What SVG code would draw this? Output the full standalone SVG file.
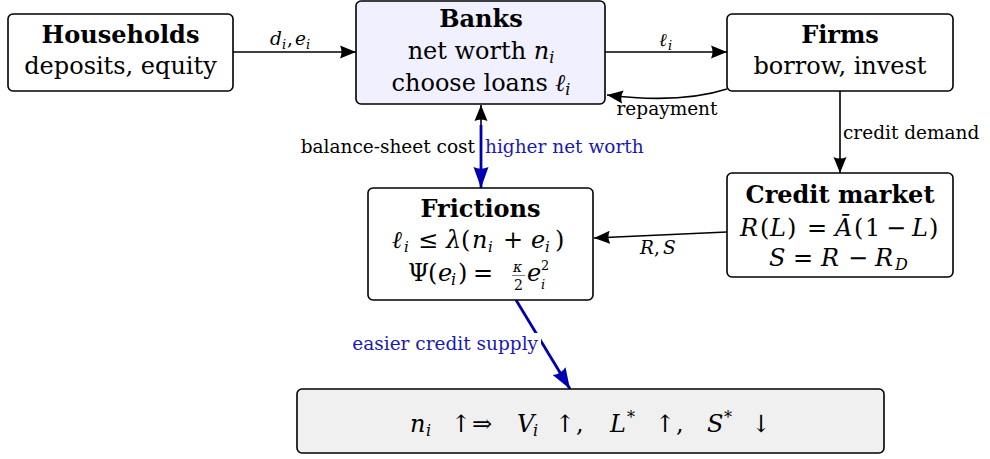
<svg xmlns="http://www.w3.org/2000/svg" width="990" height="459" viewBox="0 0 990 459">
<style>
.box{fill:#fff;stroke:#000;stroke-width:1.6}
.t{font-family:"DejaVu Serif","Liberation Serif",serif;font-size:24px;fill:#000}
.b{font-weight:bold}
.m{font-style:italic}
.s{font-size:16px}
.lbl{font-size:18.5px}
.ls{font-size:13px}
.blue{fill:#1a1ab3}
.c{stroke:#000;stroke-width:1.6;fill:none}
.cb{stroke:#0000b3;stroke-width:2.8;fill:none}
</style>
<defs>
<marker id="ah" markerUnits="userSpaceOnUse" markerWidth="18" markerHeight="14" refX="16" refY="7" orient="auto">
<path d="M0,0.5 L16,7 L0,13.5 Q3,7 0,0.5 Z" fill="#000"/>
</marker>
<marker id="ahb" markerUnits="userSpaceOnUse" markerWidth="22" markerHeight="16" refX="21" refY="8" orient="auto">
<path d="M0,0.5 L21,8 L0,15.5 Q3.5,8 0,0.5 Z" fill="#0000b3"/>
</marker>
</defs>

<g id="connectors">
<line class="c" x1="233" y1="52" x2="356" y2="52" marker-end="url(#ah)"/>
<line class="c" x1="605" y1="52" x2="727" y2="52" marker-end="url(#ah)"/>
<path class="c" d="M727,89 Q680,104 607,95" marker-end="url(#ah)"/>
<line class="c" x1="840" y1="91" x2="840" y2="173" marker-end="url(#ah)"/>
<line class="c" x1="727" y1="232" x2="594" y2="238" marker-end="url(#ah)"/>
<line class="c" x1="481" y1="188" x2="481" y2="105" marker-end="url(#ah)"/>
<line class="cb" x1="481" y1="125" x2="481" y2="188" marker-end="url(#ahb)"/>
<line class="cb" x1="516" y1="300" x2="570" y2="389" marker-end="url(#ahb)"/>
<rect x="345" y="333" width="196" height="23" fill="#fff"/>
<text class="t lbl m"><tspan x="270" y="45">d</tspan><tspan class="ls" x="282" y="49">i</tspan><tspan x="287" y="45" font-style="normal">,</tspan><tspan x="295" y="45">e</tspan><tspan class="ls" x="306" y="49">i</tspan></text>
<text class="t lbl m"><tspan x="659" y="46">ℓ</tspan><tspan class="ls" x="668" y="50">i</tspan></text>
<text class="t lbl" x="667" y="115" text-anchor="middle">repayment</text>
<text class="t lbl" x="843" y="139">credit demand</text>
<text class="t lbl" x="475" y="153" text-anchor="end">balance-sheet cost</text>
<text class="t lbl blue" x="485" y="153">higher net worth</text>
<text class="t lbl m"><tspan x="640" y="254">R</tspan><tspan x="654" y="254" font-style="normal">,</tspan><tspan x="663" y="254">S</tspan></text>
<text class="t lbl blue" x="538" y="350" text-anchor="end">easier credit supply</text>
</g>

<g id="households">
<rect class="box" x="8" y="14" width="225" height="77" rx="5"/>
<text class="t b" x="120.5" y="43" text-anchor="middle">Households</text>
<text class="t" x="120.5" y="74" text-anchor="middle">deposits, equity</text>
</g>

<g id="banks">
<rect class="box" x="356" y="1" width="249" height="103" rx="5" style="fill:#f0f0ff"/>
<text class="t b" x="481" y="27" text-anchor="middle">Banks</text>
<text class="t" x="481" y="59" text-anchor="middle">net worth <tspan class="m">n</tspan><tspan class="m s" dy="4">i</tspan></text>
<text class="t" x="481" y="91" text-anchor="middle">choose loans <tspan class="m">ℓ</tspan><tspan class="m s" dy="4">i</tspan></text>
</g>

<g id="firms">
<rect class="box" x="727" y="14" width="226" height="77" rx="5"/>
<text class="t b" x="840" y="43" text-anchor="middle">Firms</text>
<text class="t" x="840" y="74" text-anchor="middle">borrow, invest</text>
</g>

<g id="credit-market">
<rect class="box" x="727" y="173" width="226" height="104" rx="5"/>
<text class="t b" x="840" y="203" text-anchor="middle">Credit market</text>
<text class="t"><tspan class="m" x="740" y="236">R</tspan><tspan x="760" y="236">(</tspan><tspan class="m" x="770" y="236">L</tspan><tspan x="787" y="236">)</tspan><tspan x="807" y="236">=</tspan><tspan class="m" x="835" y="236">Ā</tspan><tspan x="854" y="236">(</tspan><tspan x="865" y="236">1</tspan><tspan x="886" y="236">−</tspan><tspan class="m" x="912" y="236">L</tspan><tspan x="929" y="236">)</tspan></text>
<text class="t"><tspan class="m" x="769" y="266">S</tspan><tspan x="793" y="266">=</tspan><tspan class="m" x="821" y="266">R</tspan><tspan x="848" y="266">−</tspan><tspan class="m" x="875" y="266">R</tspan><tspan class="m s" x="895" y="270">D</tspan></text>
</g>

<g id="frictions">
<rect class="box" x="368" y="188" width="225" height="112" rx="5"/>
<text class="t b" x="480.5" y="217" text-anchor="middle">Frictions</text>
<text class="t"><tspan class="m" x="392" y="248">ℓ</tspan><tspan class="m" font-size="15" x="404" y="252">i</tspan><tspan x="418" y="248">≤</tspan><tspan class="m" x="446" y="248">λ</tspan><tspan x="461" y="248">(</tspan><tspan class="m" x="472" y="248">n</tspan><tspan class="m" font-size="15" x="488" y="252">i</tspan><tspan x="503" y="248">+</tspan><tspan class="m" x="531" y="248">e</tspan><tspan class="m" font-size="15" x="545" y="252">i</tspan><tspan x="555" y="248">)</tspan></text>
<line x1="512" y1="275.5" x2="525" y2="275.5" stroke="#000" stroke-width="0.5"/>
<text class="t"><tspan x="408" y="281">Ψ</tspan><tspan x="428" y="281">(</tspan><tspan class="m" x="438" y="281">e</tspan><tspan class="m s" x="451" y="285">i</tspan><tspan x="458" y="281">)</tspan><tspan x="473" y="281">=</tspan><tspan class="m" font-size="14" x="513" y="272">κ</tspan><tspan font-size="14" x="514" y="290">2</tspan><tspan class="m" x="527" y="281">e</tspan><tspan font-size="13" x="541" y="270">2</tspan><tspan class="m" font-size="13" x="541" y="289">i</tspan></text>
</g>

<g id="result">
<rect class="box" x="297" y="389" width="587" height="64" rx="5" style="fill:#f0f0f0"/>
<text class="t"><tspan class="m" x="410" y="432">n</tspan><tspan class="m s" x="426" y="436">i</tspan><tspan x="451" y="432">↑</tspan><tspan x="472" y="432">⇒</tspan><tspan class="m" x="517" y="432">V</tspan><tspan class="m s" x="533" y="436">i</tspan><tspan x="555" y="432">↑</tspan><tspan x="576" y="432">,</tspan><tspan class="m" x="610" y="432">L</tspan><tspan class="s" x="627" y="423">*</tspan><tspan x="655" y="432">↑</tspan><tspan x="676" y="432">,</tspan><tspan class="m" x="707" y="432">S</tspan><tspan class="s" x="724" y="423">*</tspan><tspan x="751" y="432">↓</tspan></text>
</g>
</svg>
